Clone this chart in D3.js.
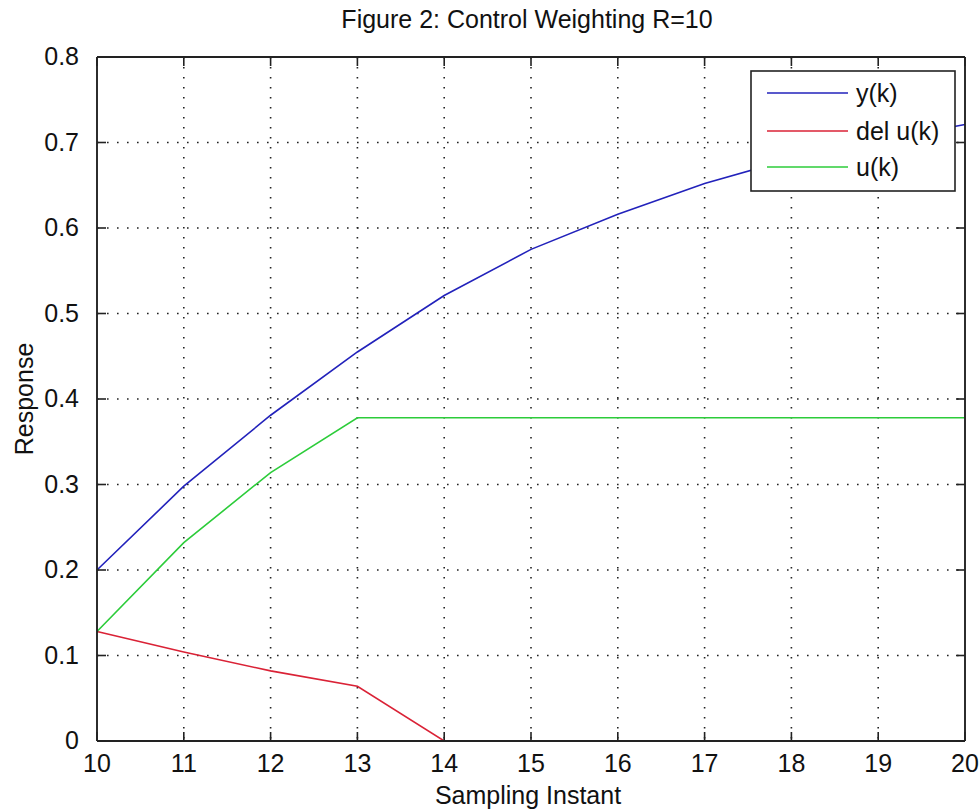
<!DOCTYPE html>
<html lang="en">

<head>
    <meta charset="UTF-8">
    <title>Control Weighting R=10</title>
    <script src="https://d3js.org/d3.v7.js"></script>
    <style>
        body { margin: 0; background: #fff; }
        text { font-family: "Liberation Sans", Arial, sans-serif; fill: #111; }
    </style>
</head>

<body>
    <div class="canvas"></div>

    <script>
        // data
        let k = [10, 11, 12, 13, 14, 15, 16, 17, 18, 19, 20];
        let yk = [0.200, 0.298, 0.381, 0.455, 0.521, 0.575, 0.616, 0.652, 0.681, 0.702, 0.721];
        let delu = [0.128, 0.104, 0.082, 0.064, 0, 0, 0, 0, 0, 0, 0];
        let uk = [0.128, 0.232, 0.314, 0.378, 0.378, 0.378, 0.378, 0.378, 0.378, 0.378, 0.378];
        let seriesNames = ["y(k)", "del u(k)", "u(k)"];
        let xTicks = [10, 11, 12, 13, 14, 15, 16, 17, 18, 19, 20];
        let yTicks = [0, 0.1, 0.2, 0.3, 0.4, 0.5, 0.6, 0.7, 0.8];

        let series = [
            { name: seriesNames[0], values: yk, color: "#2222bb" },
            { name: seriesNames[1], values: delu, color: "#da2236" },
            { name: seriesNames[2], values: uk, color: "#2ccc3a" }
        ];

        // canvas
        let margin = { top: 57, right: 14, bottom: 70, left: 97 };
        let width = 979 - margin.left - margin.right;
        let height = 811 - margin.top - margin.bottom;
        let fontSize = "25px";

        let svg = d3.select(".canvas")
            .append("svg")
            .attr("width", 979)
            .attr("height", 811);
        let canvas = svg.append("g")
            .attr("transform", "translate(" + margin.left + "," + margin.top + ")");

        // scales
        let x_scale = d3.scaleLinear().domain([10, 20]).range([0, width]);
        let y_scale = d3.scaleLinear().domain([0, 0.8]).range([height, 0]);

        // dotted grid
        let grid_g = canvas.append("g").attr("class", "grid");
        grid_g.selectAll(".vgrid").data(xTicks.slice(1, -1)).enter().append("line")
            .attr("x1", d => x_scale(d)).attr("x2", d => x_scale(d))
            .attr("y1", 0).attr("y2", height);
        grid_g.selectAll(".hgrid").data(yTicks.slice(1, -1)).enter().append("line")
            .attr("x1", 0).attr("x2", width)
            .attr("y1", d => y_scale(d)).attr("y2", d => y_scale(d));
        grid_g.selectAll("line")
            .attr("stroke", "#222")
            .attr("stroke-width", 1.6)
            .attr("stroke-dasharray", "1.6,8.4");

        // lines
        let line = d3.line()
            .x((d, i) => x_scale(k[i]))
            .y(d => y_scale(d));
        canvas.append("g").selectAll(".series").data(series).enter().append("path")
            .attr("fill", "none")
            .attr("stroke", d => d.color)
            .attr("stroke-width", 1.6)
            .attr("d", d => line(d.values));

        // axes (ticks inward, box on all sides)
        let tickLen = 9;
        let axis_g = canvas.append("g").attr("class", "axis");
        axis_g.append("g")
            .attr("transform", "translate(0," + height + ")")
            .call(d3.axisBottom(x_scale).tickValues(xTicks).tickSizeInner(-tickLen).tickSizeOuter(0).tickPadding(13).offset(0));
        axis_g.append("g")
            .call(d3.axisTop(x_scale).tickValues(xTicks).tickSizeInner(-tickLen).tickSizeOuter(0).tickFormat("").offset(0));
        axis_g.append("g")
            .call(d3.axisLeft(y_scale).tickValues(yTicks).tickSizeInner(-tickLen).tickSizeOuter(0).tickPadding(18).offset(0)
                .tickFormat(d => d === 0 ? "0" : d3.format(".1f")(d)));
        axis_g.append("g")
            .attr("transform", "translate(" + width + ",0)")
            .call(d3.axisRight(y_scale).tickValues(yTicks).tickSizeInner(-tickLen).tickSizeOuter(0).tickFormat("").offset(0));
        axis_g.selectAll(".domain").attr("stroke", "#222").attr("stroke-width", 1.9);
        axis_g.selectAll(".tick line").attr("stroke", "#222").attr("stroke-width", 1.6);
        axis_g.selectAll(".tick text")
            .style("font-family", "'Liberation Sans', Arial, sans-serif")
            .style("font-size", fontSize)
            .attr("fill", "#111");

        // legend
        let legend_g = canvas.append("g")
            .attr("transform", "translate(" + (751 - margin.left) + "," + (71 - margin.top) + ")");
        legend_g.append("rect")
            .attr("width", 204).attr("height", 120)
            .attr("fill", "#fff").attr("stroke", "#222").attr("stroke-width", 1.6);
        let rows = legend_g.selectAll(".row").data(series).enter().append("g")
            .attr("transform", (d, i) => "translate(0," + [22, 60, 96][i] + ")");
        rows.append("line")
            .attr("x1", 16).attr("x2", 97)
            .attr("stroke", d => d.color).attr("stroke-width", 1.6);
        rows.append("text")
            .attr("x", 105).attr("dy", "0.35em")
            .style("font-size", fontSize)
            .text(d => d.name);

        // titles
        svg.append("text")
            .attr("x", 527).attr("y", 28)
            .attr("text-anchor", "middle")
            .style("font-size", fontSize)
            .text("Figure 2: Control Weighting R=10");
        svg.append("text")
            .attr("x", 528).attr("y", 804)
            .attr("text-anchor", "middle")
            .style("font-size", fontSize)
            .text("Sampling Instant");
        svg.append("text")
            .attr("transform", "translate(33," + (margin.top + height / 2) + ") rotate(-90)")
            .attr("text-anchor", "middle")
            .style("font-size", fontSize)
            .text("Response");
    </script>
</body>

</html>
